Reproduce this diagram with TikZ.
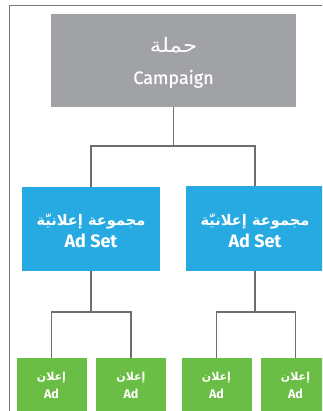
\documentclass[tikz,border=0pt]{standalone}
\usepackage{fontspec}
\setmainfont{Fira Sans}
\newfontfamily\arabicfont[Script=Arabic]{DejaVu Sans}
\newfontfamily\arabicwide[Script=Arabic,FakeStretch=1.15]{DejaVu Sans}
\TeXXeTstate=1
\definecolor{campgray}{HTML}{A0A2A5}
\definecolor{setblue}{HTML}{27AAE1}
\definecolor{adgreen}{HTML}{6ABD45}
\definecolor{linegray}{HTML}{6D6E71}
\definecolor{framegray}{HTML}{77787B}

\begin{document}
\begin{tikzpicture}[x=1pt,y=-1pt,
  box/.style={rectangle, inner sep=0pt, draw=none},
  campbox/.style={box, fill=campgray, minimum width=245pt, minimum height=93pt},
  setbox/.style={box, fill=setblue, minimum width=138pt, minimum height=84pt},
  adbox/.style={box, fill=adgreen, minimum width=70pt, minimum height=60pt},
  lbl/.style={inner sep=0pt, anchor=base, text=white},
  link/.style={draw=linegray, line width=1.8pt},
  frameline/.style={draw=framegray, line width=1pt}]
\useasboundingbox (0,0) rectangle (322,411);
\clip (0,0) rectangle (322,411);

% page frame (top and left rules)
\coordinate (fTR) at (322,6);
\coordinate (fTL) at (9.5,6);
\coordinate (fBL) at (9.5,411);
\draw[frameline] (fTR) -- (fTL) -- (fBL);

% boxes
\node[campbox] (camp) at (173.5,60.5) {};
\node[setbox] (setL) at (91,229) {};
\node[setbox] (setR) at (255,228.5) {};
\node[adbox] (adA) at (51.5,388) {};
\node[adbox] (adB) at (131,388) {};
\node[adbox] (adC) at (216.5,388) {};
\node[adbox] (adD) at (295.5,388) {};

% labels
\node[lbl, font=\arabicwide\fontsize{20}{23}\selectfont] (campAr) at (173.5,53) {\beginR حملة\endR};
\node[lbl, font=\fontsize{18}{21}\selectfont\addfontfeature{FakeBold=0.8}] (campEn) at (173.5,84) {Campaign};

\node[lbl, font=\arabicfont\bfseries\fontsize{14.6}{17}\selectfont] (setLAr) at (91,225) {\beginR مجموعة إعلانيّة\endR};
\node[lbl, font=\bfseries\fontsize{18}{21}\selectfont] (setLEn) at (91,247) {Ad Set};
\node[lbl, font=\arabicfont\bfseries\fontsize{14.6}{17}\selectfont] (setRAr) at (255,225) {\beginR مجموعة إعلانيّة\endR};
\node[lbl, font=\bfseries\fontsize{18}{21}\selectfont] (setREn) at (255,247) {Ad Set};

\foreach \n/\x in {A/51.5, B/131, C/216.5, D/295.5}{
  \node[lbl, font=\arabicfont\bfseries\fontsize{11}{13}\selectfont] (ad\n Ar) at (\x,380) {\beginR إعلان\endR};
  \node[lbl, font=\bfseries\fontsize{12.5}{15}\selectfont] (ad\n En) at (\x,398.5) {Ad};
}

% connectors
\coordinate (campJ) at ([yshift=-39pt]camp.south);
\draw[link] (camp.south) -- (campJ) -| (setL.north);
\draw[link] (campJ) -| (setR.north);
\coordinate (setLJ) at ([yshift=-41pt]setL.south);
\coordinate (setRJ) at ([yshift=-41pt]setR.south);
\draw[link] (setL.south) -- (setLJ) -| (adA.north);
\draw[link] (setLJ) -| (adB.north);
\draw[link] (setR.south) -- (setRJ) -| (adC.north);
\draw[link] (setRJ) -| (adD.north);
\end{tikzpicture}
\end{document}
